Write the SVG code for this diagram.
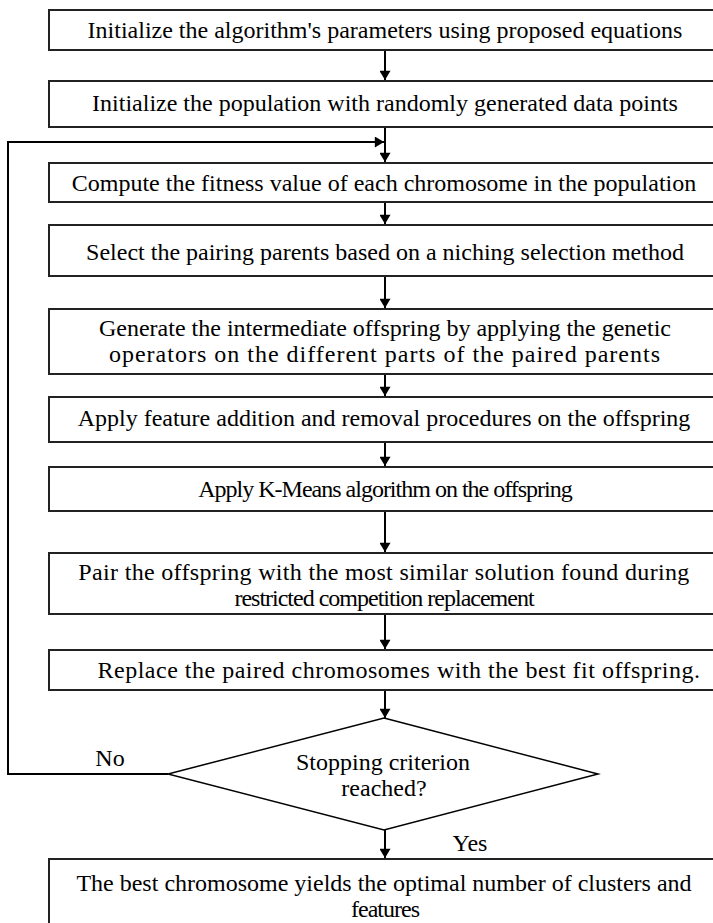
<svg xmlns="http://www.w3.org/2000/svg" width="713" height="923" viewBox="0 0 713 923">
<defs>
<marker id="ah" viewBox="0 0 10 12" refX="10" refY="6" markerWidth="12" markerHeight="11" markerUnits="userSpaceOnUse" orient="auto">
<path d="M0,0 L10,6 L0,12 z" fill="#000"/>
</marker>
<style>
.box{fill:#fff;stroke:#222;stroke-width:2}
.t{font-family:"Liberation Serif","Times New Roman",serif;font-size:24px;fill:#000;text-anchor:middle}
.c{fill:none;stroke:#000;stroke-width:2}
</style>
</defs>
<rect width="713" height="923" fill="#fff"/>
<g id="connectors">
<line class="c" x1="385" y1="50" x2="385" y2="80" marker-end="url(#ah)"/>
<line class="c" x1="385" y1="127" x2="385" y2="162" marker-end="url(#ah)"/>
<polyline class="c" points="168,774 8,774 8,142 384,142" marker-end="url(#ah)"/>
<line class="c" x1="385" y1="202" x2="385" y2="224" marker-end="url(#ah)"/>
<line class="c" x1="385" y1="276" x2="385" y2="308" marker-end="url(#ah)"/>
<line class="c" x1="385" y1="374" x2="385" y2="396" marker-end="url(#ah)"/>
<line class="c" x1="385" y1="442" x2="385" y2="466" marker-end="url(#ah)"/>
<line class="c" x1="385" y1="511" x2="385" y2="552" marker-end="url(#ah)"/>
<line class="c" x1="385" y1="614" x2="385" y2="649" marker-end="url(#ah)"/>
<line class="c" x1="385" y1="690" x2="385" y2="718" marker-end="url(#ah)"/>
<line class="c" x1="385" y1="830" x2="385" y2="858" marker-end="url(#ah)"/>
<text class="t" x="110" y="766">No</text>
<text class="t" x="470" y="851">Yes</text>
</g>
<g id="n1"><rect class="box" x="49" y="10" width="680" height="40"/><text class="t" x="385" y="38">Initialize the algorithm's parameters using proposed equations</text></g>
<g id="n2"><rect class="box" x="49" y="81" width="680" height="46"/><text class="t" x="385" y="111">Initialize the population with randomly generated data points</text></g>
<g id="n3"><rect class="box" x="49" y="163" width="680" height="39"/><text class="t" x="384" y="191">Compute the fitness value of each chromosome in the population</text></g>
<g id="n4"><rect class="box" x="49" y="225" width="680" height="51"/><text class="t" x="385" y="260">Select the pairing parents based on a niching selection method</text></g>
<g id="n5"><rect class="box" x="49" y="309" width="680" height="65"/><text class="t" x="385" y="336">Generate the intermediate offspring by applying the genetic</text><text class="t" x="385" y="362" letter-spacing="1">operators on the different parts of the paired parents</text></g>
<g id="n6"><rect class="box" x="49" y="397" width="680" height="45"/><text class="t" x="384" y="426">Apply feature addition and removal procedures on the offspring</text></g>
<g id="n7"><rect class="box" x="49" y="467" width="680" height="44"/><text class="t" x="385" y="497" letter-spacing="-1">Apply K-Means algorithm on the offspring</text></g>
<g id="n8"><rect class="box" x="49" y="553" width="680" height="61"/><text class="t" x="384" y="580" letter-spacing="0.33">Pair the offspring with the most similar solution found during</text><text class="t" x="384" y="606" letter-spacing="-1">restricted competition replacement</text></g>
<g id="n9"><rect class="box" x="49" y="650" width="680" height="40"/><text class="t" x="399" y="678" letter-spacing="0.5">Replace the paired chromosomes with the best fit offspring.</text></g>
<g id="d1"><polygon points="384,718 598,774 384,830 168,774" fill="#fff" stroke="#000" stroke-width="1.5"/><text class="t" x="383" y="770">Stopping criterion</text><text class="t" x="384" y="796">reached?</text></g>
<g id="n10"><rect class="box" x="49" y="859" width="680" height="80"/><text class="t" x="384" y="891">The best chromosome yields the optimal number of clusters and</text><text class="t" x="385" y="917" letter-spacing="-1">features</text></g>
</svg>
